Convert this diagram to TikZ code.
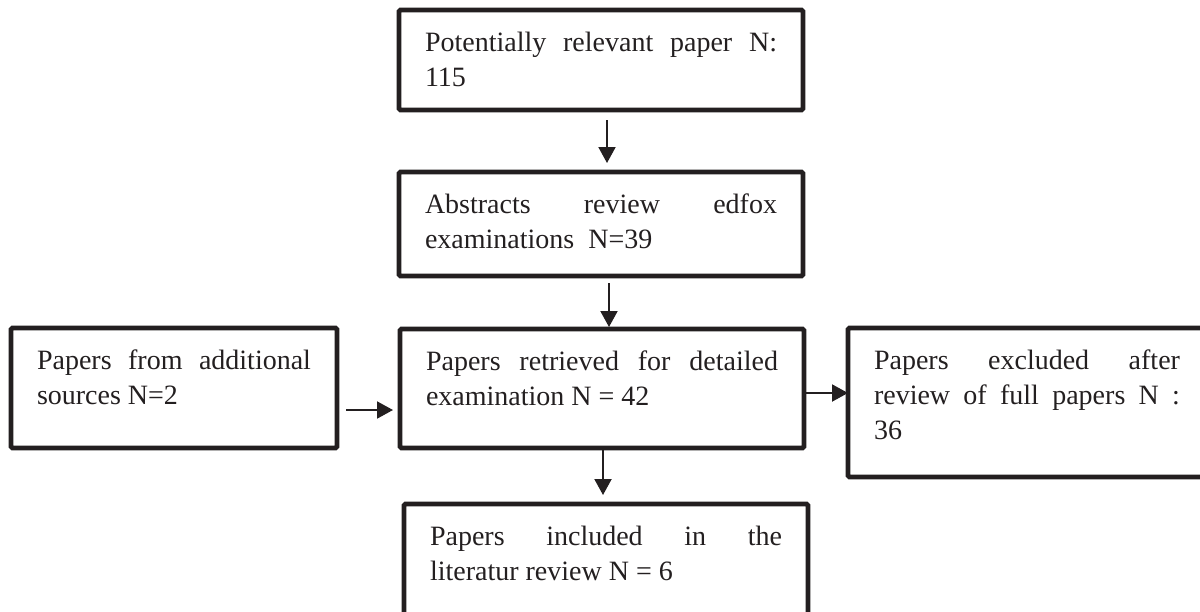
\documentclass[tikz,border=0pt]{standalone}
\usepackage{fontspec}
\setmainfont{Liberation Serif}
\usetikzlibrary{arrows.meta}
\definecolor{ink}{HTML}{231F20}
\newcommand{\jline}[1]{\makebox[\linewidth][s]{#1}}
\newcommand{\boxtext}[3]{\parbox[c][#2][t]{#1}{\fontsize{28}{35}\selectfont #3}}
\tikzset{
  flowbox/.style={draw=ink, text=ink, line width=4.8pt, rounded corners=1.5pt,
    inner xsep=26pt, inner ysep=22pt, outer sep=0pt, anchor=north west},
  arr/.style={draw=ink, line width=2pt, -{Triangle[width=17pt,length=16pt]}}
}
\begin{document}
\begin{tikzpicture}[x=1pt,y=-1pt]
\useasboundingbox (0,0) rectangle (1200,611);
\clip (0,0) rectangle (1200,611);
\node[flowbox] (b1) at (399,10) {\boxtext{352pt}{56pt}{\jline{Potentially relevant paper N:}\\115}};
\node[flowbox] (b2) at (399,172) {\boxtext{352pt}{60pt}{\jline{Abstracts review edfox}\\examinations\ \ N=39}};
\node[flowbox] (b3) at (400,329) {\boxtext{352pt}{75pt}{\jline{Papers retrieved for detailed}\\examination N = 42}};
\node[flowbox] (lft) at (11,328) {\boxtext{274pt}{76pt}{\jline{Papers from additional}\\sources N=2}};
\node[flowbox] (rgt) at (848,328) {\boxtext{306pt}{105pt}{\jline{Papers excluded after}\\\jline{review of full papers N :}\\36}};
\node[flowbox] (b5) at (404,504) {\boxtext{352pt}{110pt}{\jline{Papers included in the}\\literatur review N = 6}};
\draw[arr] ([xshift=6pt,yshift=-10pt]b1.south) coordinate (s1) -- ([yshift=9pt]s1 |- b2.north);
\draw[arr] ([xshift=8pt,yshift=-7pt]b2.south) coordinate (s2) -- ([yshift=2pt]s2 |- b3.north);
\draw[arr] ([xshift=9pt,yshift=-22pt]lft.east) coordinate (s3) -- ([xshift=-7pt]s3 -| b3.west);
\draw[arr] ([yshift=-4.5pt]b3.east) coordinate (s4) -- (s4 -| rgt.west);
\draw[arr] ([xshift=1pt,yshift=-2pt]b3.south) coordinate (s5) -- ([yshift=9pt]s5 |- b5.north);
\end{tikzpicture}
\end{document}
